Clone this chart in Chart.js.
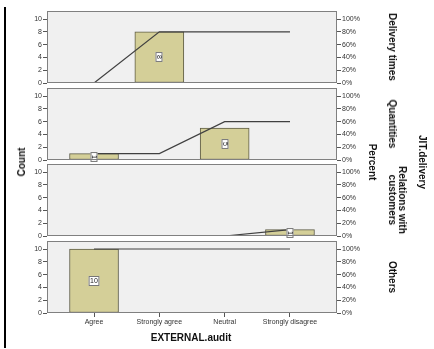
<!DOCTYPE html>
<html>
<head>
<meta charset="utf-8">
<script src="https://cdn.jsdelivr.net/npm/chart.js@4"></script>
<style>
  body { margin: 0; background: #fff; }
  #wrap { position: relative; width: 434px; height: 349px; overflow: hidden; font-family: "Liberation Sans", Arial, sans-serif; }
  #wrap canvas { position: absolute; left: 0; }
  .lbl { position: absolute; white-space: nowrap; font-weight: bold; font-size: 10px; color: #111; text-align: center; line-height: 10px; transform: translate(-50%, -50%); }
  .rot { transform: translate(-50%, -50%) rotate(90deg); }
  .rotl { transform: translate(-50%, -50%) rotate(-90deg); }
  #edge { position: absolute; left: 4px; top: 7px; width: 2px; height: 341px; background: #000; }
</style>
</head>
<body>
<div id="wrap">
  <div id="edge"></div>
</div>
<script>
// data
const categories = ["Agree", "Strongly agree", "Neutral", "Strongly disagree"];
const panelNames = ["Delivery times", "Quantities", "Relations with customers", "Others"];
const deliveryCounts = [0, 8, 0, 0];
const deliveryPct = [0, 80, 80, 80];
const quantityCounts = [1, 0, 5, 0];
const quantityPct = [10, 10, 60, 60];
const relationCounts = [0, 0, 0, 1];
const relationPct = [0, 0, 0, 10];
const otherCounts = [10, 0, 0, 0];
const otherPct = [100, 100, 100, 100];
const countTicks = [0, 2, 4, 6, 8, 10];
const pctTicks = [0, 20, 40, 60, 80, 100];

const panelCounts = [deliveryCounts, quantityCounts, relationCounts, otherCounts];
const panelPct = [deliveryPct, quantityPct, relationPct, otherPct];

// layout
const panelTops = [11, 88, 164, 241];
const panelH = 72;
const PAD = 6;
const wrap = document.getElementById("wrap");
const tickFont = { family: "'Liberation Sans', Arial, sans-serif", size: 7 };

const frame = {
  id: "frame",
  beforeDatasetsDraw(chart) {
    const a = chart.chartArea, c = chart.ctx;
    c.save();
    c.fillStyle = "#f0f0f0";
    c.fillRect(a.left, a.top, a.right - a.left, a.bottom - a.top);
    c.restore();
  },
  afterDraw(chart) {
    const a = chart.chartArea, c = chart.ctx;
    c.save();
    c.strokeStyle = "#808080";
    c.lineWidth = 1;
    c.strokeRect(a.left + 0.5, a.top + 0.5, a.right - a.left - 1, a.bottom - a.top - 1);
    c.restore();
  }
};

// white value boxes in the middle of each bar
const boxes = {
  id: "boxes",
  afterDatasetsDraw(chart, args, opts) {
    const meta = chart.getDatasetMeta(1);
    const c = chart.ctx;
    meta.data.forEach((el, k) => {
      const v = chart.data.datasets[1].data[k].y;
      if (!v) return;
      const txt = String(v);
      const cy = (el.y + el.base) / 2;
      c.save();
      c.translate(Math.round(el.x), Math.round(cy));
      if (opts.rotate) c.rotate(Math.PI / 2);
      c.font = "7px 'Liberation Sans', Arial, sans-serif";
      const tw = c.measureText(txt).width;
      const w = opts.rotate ? tw + 6 : tw + 3;
      const h = opts.rotate ? 7 : 10;
      c.fillStyle = "#fff";
      c.strokeStyle = "#777";
      c.lineWidth = 1;
      c.fillRect(-w / 2, -h / 2, w, h);
      c.strokeRect(-w / 2 + 0.5, -h / 2 + 0.5, w - 1, h - 1);
      c.fillStyle = "#222";
      c.textAlign = "center";
      c.textBaseline = "middle";
      c.fillText(txt, 0, 0.5);
      c.restore();
    });
  }
};

panelCounts.forEach((counts, i) => {
  const last = i === panelCounts.length - 1;
  const xH = last ? 22 : 0;
  const canvas = document.createElement("canvas");
  const h = PAD + panelH + (last ? xH : PAD);
  canvas.style.top = (panelTops[i] - PAD) + "px";
  canvas.width = 434;
  canvas.height = h;
  canvas.style.width = "434px";
  canvas.style.height = h + "px";
  wrap.appendChild(canvas);

  new Chart(canvas, {
    data: {
      datasets: [{
        type: "line",
        data: panelPct[i].map((p, k) => ({ x: k, y: p })),
        yAxisID: "y1",
        borderColor: "#404040",
        borderWidth: 1.2,
        pointRadius: 0,
        tension: 0,
        order: 1
      }, {
        type: "bar",
        data: counts.map((c, k) => ({ x: k, y: c || null })),
        yAxisID: "y",
        backgroundColor: "#d4cf98",
        borderColor: "#5e5c46",
        borderWidth: 1,
        borderSkipped: false,
        barThickness: 49,
        order: 2
      }]
    },
    options: {
      responsive: false,
      animation: false,
      layout: { padding: { top: PAD, bottom: last ? 0 : PAD, left: 0, right: 0 } },
      plugins: { legend: { display: false }, tooltip: { enabled: false }, boxes: { rotate: !last } },
      scales: {
        x: {
          type: "linear",
          offset: false,
          min: -0.72,
          max: 3.72,
          display: last,
          afterBuildTicks: s => { s.ticks = categories.map((c, k) => ({ value: k })); },
          afterFit: s => { s.height = xH; },
          ticks: { callback: v => categories[v], font: tickFont, color: "#333", padding: 1, autoSkip: false, maxRotation: 0 },
          grid: { drawOnChartArea: false, tickLength: 4, color: "#555", offset: false },
          border: { display: false }
        },
        y: {
          position: "left",
          min: 0,
          max: 11.25,
          afterBuildTicks: s => { s.ticks = countTicks.map(v => ({ value: v })); },
          afterFit: s => { s.width = 47; },
          ticks: { font: tickFont, color: "#333", padding: 1 },
          grid: { drawOnChartArea: false, tickLength: 4, color: "#555" },
          border: { display: false }
        },
        y1: {
          position: "right",
          min: 0,
          max: 112.5,
          afterBuildTicks: s => { s.ticks = pctTicks.map(v => ({ value: v })); },
          afterFit: s => { s.width = 97; },
          ticks: { font: tickFont, color: "#333", padding: 1, callback: v => v + "%" },
          grid: { drawOnChartArea: false, tickLength: 4, color: "#555" },
          border: { display: false }
        }
      }
    },
    plugins: [frame, boxes]
  });

  const nm = document.createElement("div");
  nm.className = "lbl rot";
  nm.style.left = (panelNames[i].includes(" with ") ? 397 : 392) + "px";
  nm.style.top = (panelTops[i] + panelH / 2) + "px";
  nm.innerHTML = panelNames[i].replace(" with customers", " with<br>customers");
  wrap.appendChild(nm);
});

// axis titles
function addTitle(text, x, y, cls) {
  const d = document.createElement("div");
  d.className = "lbl " + cls;
  d.style.left = x + "px";
  d.style.top = y + "px";
  d.textContent = text;
  wrap.appendChild(d);
}
addTitle("Count", 22, 162, "rotl");
addTitle("Percent", 372, 162, "rot");
addTitle("JIT.delivery", 422, 162, "rot");
addTitle("EXTERNAL.audit", 191, 338, "");
</script>
</body>
</html>
